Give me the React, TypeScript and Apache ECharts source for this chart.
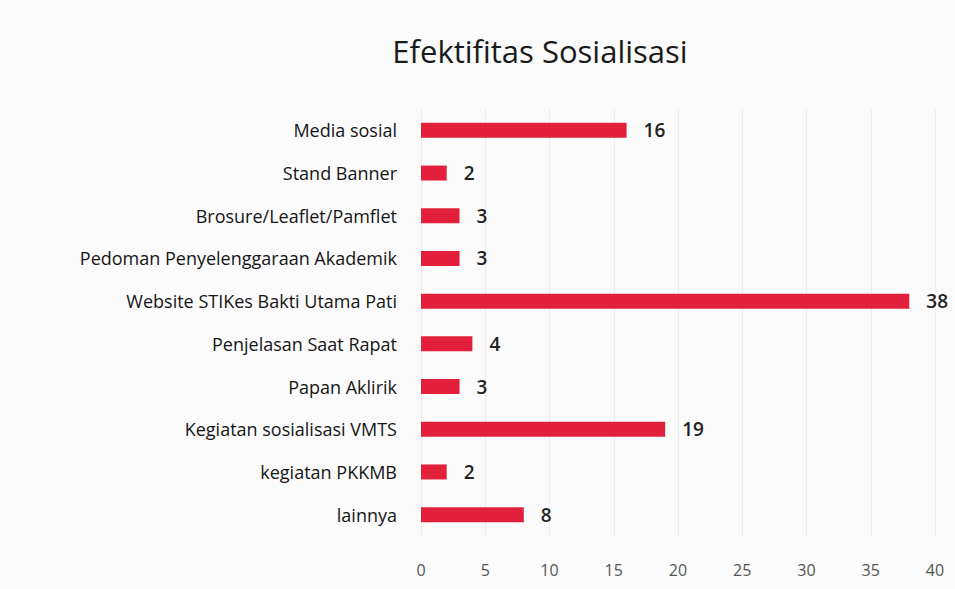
import React, { useEffect, useRef } from "react";
import * as echarts from "echarts";

const categories = [
  "Media sosial",
  "Stand Banner",
  "Brosure/Leaflet/Pamflet",
  "Pedoman Penyelenggaraan Akademik",
  "Website STIKes Bakti Utama Pati",
  "Penjelasan Saat Rapat",
  "Papan Aklirik",
  "Kegiatan sosialisasi VMTS",
  "kegiatan PKKMB",
  "lainnya",
];
const values = [16, 2, 3, 3, 38, 4, 3, 19, 2, 8];
const titleText = "Efektifitas Sosialisasi";

export default function App() {
  const ref = useRef<HTMLDivElement>(null);
  useEffect(() => {
    if (!ref.current) return;
    const chart = echarts.init(ref.current, undefined, { renderer: "svg" });
    chart.setOption({
      animation: false,
      backgroundColor: "#fbfbfb",
      title: {
        text: titleText,
        left: 535,
        top: 30,
        textAlign: "center",
        textStyle: {
          fontFamily: "Open Sans",
          fontSize: 31,
          fontWeight: "normal",
          color: "#1a1a1a",
        },
      },
      grid: { left: 421, right: 20, top: 109, bottom: 53, containLabel: false },
      xAxis: {
        type: "value",
        min: 0,
        max: 40,
        interval: 5,
        axisLine: { show: false },
        axisTick: { show: false },
        axisLabel: {
          margin: 26,
          fontFamily: "Open Sans",
          fontSize: 16,
          color: "#555",
        },
        splitLine: { show: true, lineStyle: { color: "#ececec", width: 1 } },
      },
      yAxis: {
        type: "category",
        data: categories,
        inverse: true,
        axisLine: { show: false },
        axisTick: { show: false },
        axisLabel: {
          margin: 24,
          fontFamily: "Open Sans",
          fontSize: 18,
          color: "#151515",
        },
      },
      series: [
        {
          type: "bar",
          data: values,
          barWidth: 15,
          itemStyle: { color: "#e3203c" },
          label: {
            show: true,
            position: "right",
            distance: 17,
            fontFamily: "Open Sans",
            fontSize: 19,
            fontWeight: 600,
            color: "#222",
          },
        },
      ],
    });
    return () => chart.dispose();
  }, []);
  return (
    <div
      ref={ref}
      style={{ position: "fixed", left: 0, top: 0, width: 955, height: 589 }}
    />
  );
}
